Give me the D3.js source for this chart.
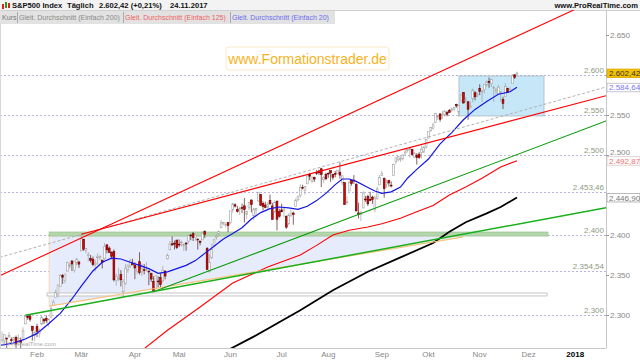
<!DOCTYPE html>
<meta charset="utf-8">
<script src="https://d3js.org/d3.v7.min.js"></script>
<style>
body { margin: 0; background: #fff; }
svg { font-family: "Liberation Sans", Arial, sans-serif; display: block; }
</style>
<body>
<script>

// daily candles per month: [day, open, high, low, close]
var jan = [
  [10,2268.6,2279.3,2265.5,2268.9],[11,2268.5,2275.5,2260.8,2275.3],[12,2271.1,2271.8,2254.3,2270.4],
  [13,2272.7,2278.7,2271.5,2274.6],[17,2269.1,2272.1,2262.8,2267.9],[18,2269.1,2272.0,2263.4,2271.9],
  [19,2271.9,2274.3,2258.4,2263.7],[20,2269.9,2276.0,2265.0,2271.3],[23,2267.8,2271.8,2257.0,2265.2],
  [24,2267.9,2284.6,2266.7,2280.1],[25,2288.9,2299.6,2288.9,2298.4],[26,2298.6,2300.9,2294.1,2296.7],
  [27,2299.0,2299.0,2291.6,2294.7],[30,2286.0,2286.0,2268.0,2280.9],[31,2274.0,2279.1,2267.2,2278.9]
];
var feb = [
  [1,2285.6,2289.1,2272.4,2279.6],[2,2276.7,2283.0,2271.7,2280.9],[3,2288.5,2298.3,2287.9,2297.4],
  [6,2294.3,2296.2,2288.6,2292.6],[7,2295.9,2299.4,2290.2,2293.1],[8,2289.6,2295.9,2285.4,2294.7],
  [9,2296.7,2311.1,2296.6,2307.9],[10,2312.3,2319.2,2311.1,2316.1],[13,2321.7,2331.6,2321.4,2328.3],
  [14,2326.1,2337.6,2322.2,2337.6],[15,2335.6,2351.3,2334.8,2349.3],[16,2349.6,2351.3,2338.9,2347.2],
  [17,2343.0,2351.2,2339.6,2351.2],[21,2354.9,2366.7,2354.4,2365.4],[22,2361.1,2365.1,2358.3,2362.8],
  [23,2367.5,2368.3,2355.1,2363.8],[24,2355.7,2367.3,2352.9,2367.3],[27,2365.2,2371.5,2361.9,2369.8],
  [28,2366.1,2367.8,2358.9,2363.6]
];
var mar = [
  [1,2380.1,2401.0,2380.1,2396.0],[2,2394.8,2394.8,2380.2,2381.9],[3,2380.9,2383.9,2376.9,2383.1],
  [6,2375.2,2378.8,2367.0,2375.3],[7,2370.7,2375.1,2365.5,2368.4],[8,2369.8,2373.1,2361.0,2363.0],
  [9,2363.5,2369.1,2354.5,2364.9],[10,2372.5,2376.9,2363.0,2372.6],[13,2371.6,2374.4,2368.5,2373.5],
  [14,2368.6,2368.6,2358.2,2365.5],[15,2370.3,2390.0,2368.9,2385.3],[16,2387.7,2388.1,2377.0,2381.4],
  [17,2383.7,2385.7,2377.6,2378.3],[20,2378.2,2379.6,2369.7,2373.5],[21,2379.3,2382.0,2341.9,2344.0],
  [22,2343.0,2351.8,2336.5,2348.5],[23,2345.1,2358.9,2342.1,2346.0],[24,2350.4,2356.2,2335.7,2344.0],
  [27,2329.1,2344.9,2322.3,2341.6],[28,2339.8,2363.8,2337.6,2358.6],[29,2356.5,2363.4,2352.9,2361.1],
  [30,2361.3,2370.4,2358.6,2368.1],[31,2364.8,2370.4,2362.6,2362.7]
];
var apr = [
  [3,2362.3,2365.9,2344.7,2358.8],[4,2354.8,2360.5,2350.7,2360.2],[5,2366.6,2378.4,2350.5,2353.0],
  [6,2353.8,2364.2,2348.9,2357.5],[7,2356.6,2363.8,2350.7,2355.5],[10,2357.2,2366.4,2354.4,2357.2],
  [11,2355.0,2355.2,2337.3,2353.8],[12,2352.2,2352.7,2341.2,2344.9],[13,2342.0,2348.3,2328.9,2329.0],
  [17,2332.6,2349.1,2332.5,2349.0],[18,2342.5,2348.4,2334.5,2342.2],[19,2346.8,2352.6,2335.1,2338.2],
  [20,2342.7,2361.4,2340.9,2355.8],[21,2354.7,2356.2,2344.5,2348.7],[24,2370.3,2377.0,2369.2,2374.2],
  [25,2381.5,2392.5,2381.2,2388.6],[26,2389.0,2398.2,2386.8,2387.5],[27,2389.7,2393.0,2381.8,2388.8],
  [28,2393.7,2393.7,2382.4,2384.2]
];
var may = [
  [1,2388.5,2394.5,2384.8,2388.3],[2,2391.1,2392.9,2385.8,2391.2],[3,2386.5,2389.8,2379.8,2388.1],
  [4,2389.8,2391.4,2380.4,2389.5],[5,2392.4,2399.3,2389.4,2399.3],[8,2399.9,2401.4,2393.6,2399.4],
  [9,2401.6,2403.9,2392.4,2396.9],[10,2396.8,2399.7,2392.8,2399.6],[11,2394.8,2395.7,2381.7,2394.4],
  [12,2392.4,2392.4,2387.2,2390.9],[15,2394.0,2404.1,2393.9,2402.3],[16,2404.6,2405.8,2396.1,2400.7],
  [17,2383.0,2384.9,2356.2,2357.0],[18,2354.7,2375.7,2352.7,2365.7],[19,2371.4,2389.1,2370.4,2381.7],
  [22,2387.2,2395.5,2386.9,2394.0],[23,2397.0,2400.9,2393.9,2398.4],[24,2401.4,2405.6,2398.0,2404.4],
  [25,2409.5,2418.7,2408.0,2415.1],[26,2414.5,2416.7,2412.2,2415.8],[30,2411.7,2415.3,2409.4,2412.9],
  [31,2415.6,2416.0,2403.6,2411.8]
];
var jun = [
  [1,2415.6,2430.1,2413.5,2430.1],[2,2431.3,2440.2,2427.7,2439.1],[5,2437.8,2439.6,2434.3,2436.1],
  [6,2431.9,2436.2,2428.1,2429.3],[7,2432.0,2435.3,2424.8,2433.1],[8,2434.3,2439.3,2427.4,2433.8],
  [9,2436.4,2446.2,2415.7,2431.8],[12,2425.9,2430.4,2420.0,2429.4],[13,2434.2,2441.5,2431.3,2440.4],
  [14,2443.8,2443.8,2428.3,2437.9],[15,2424.1,2434.0,2418.5,2432.5],[16,2431.2,2433.2,2422.9,2433.2],
  [19,2442.6,2453.8,2441.8,2453.5],[20,2450.7,2450.7,2436.6,2437.0],[21,2439.3,2442.2,2430.7,2435.6],
  [22,2437.4,2441.6,2433.3,2434.5],[23,2434.7,2441.4,2431.1,2438.3],[26,2443.3,2450.4,2437.6,2439.1],
  [27,2436.3,2440.2,2419.4,2419.4],[28,2428.7,2443.0,2428.0,2440.7],[29,2442.4,2442.7,2405.7,2419.7],
  [30,2429.2,2432.7,2421.6,2423.4]
];
var jul = [
  [3,2431.4,2439.0,2428.7,2429.0],[5,2430.8,2434.9,2422.1,2432.5],[6,2423.5,2424.3,2407.7,2409.8],
  [7,2413.5,2426.9,2413.5,2425.2],[10,2424.5,2432.0,2422.3,2427.4],[11,2427.4,2429.3,2412.8,2425.5],
  [12,2435.8,2445.8,2435.6,2443.3],[13,2444.0,2449.3,2441.7,2447.8],[14,2449.2,2463.5,2446.7,2459.3],
  [17,2459.5,2462.8,2457.2,2459.1],[18,2455.9,2460.9,2450.3,2460.6],[19,2463.9,2473.8,2463.9,2473.8],
  [20,2475.6,2477.6,2468.4,2473.5],[21,2467.4,2472.5,2465.1,2472.5],[24,2472.0,2473.1,2466.3,2469.9],
  [25,2477.9,2481.2,2474.9,2477.1],[26,2480.0,2481.7,2474.9,2477.8],[27,2482.8,2484.0,2459.9,2475.4],
  [28,2469.1,2473.5,2464.7,2472.1],[31,2475.9,2478.0,2468.5,2470.3]
];
var aug = [
  [1,2477.1,2478.5,2471.1,2476.4],[2,2480.4,2480.4,2466.5,2477.6],[3,2476.0,2476.0,2468.9,2472.2],
  [4,2476.9,2480.0,2472.1,2476.8],[7,2477.1,2481.0,2475.9,2480.9],[8,2478.4,2490.9,2470.3,2474.9],
  [9,2465.4,2474.4,2462.1,2474.0],[10,2465.4,2465.4,2437.8,2438.2],[11,2441.0,2448.1,2437.9,2441.3],
  [14,2455.0,2468.2,2455.0,2465.8],[15,2468.7,2468.9,2461.6,2464.6],[16,2468.6,2474.9,2463.9,2468.1],
  [17,2463.0,2465.0,2430.0,2430.0],[18,2427.6,2440.3,2420.7,2425.6],[21,2425.5,2430.6,2417.4,2428.4],
  [22,2433.8,2454.8,2433.7,2452.5],[23,2444.9,2448.9,2441.4,2444.0],[24,2447.9,2450.4,2436.2,2439.0],
  [25,2444.7,2454.0,2442.2,2443.1],[28,2447.4,2449.1,2439.0,2444.2],[29,2431.9,2449.2,2428.2,2446.3],
  [30,2446.1,2460.3,2443.8,2457.6],[31,2462.7,2475.0,2462.7,2471.7]
];
var sep = [
  [1,2474.4,2480.4,2473.9,2476.6],[5,2470.4,2472.0,2446.6,2457.9],[6,2463.8,2469.6,2459.2,2465.5],
  [7,2468.1,2468.6,2460.3,2465.1],[8,2462.3,2467.1,2459.4,2461.4],[11,2474.5,2489.0,2474.5,2488.1],
  [12,2491.9,2496.8,2488.4,2496.5],[13,2493.9,2498.4,2492.1,2498.4],[14,2494.6,2498.4,2491.4,2495.6],
  [15,2495.7,2500.2,2493.2,2500.2],[18,2502.5,2508.3,2499.9,2503.9],[19,2506.3,2507.8,2503.2,2506.7],
  [20,2506.8,2508.9,2496.7,2508.2],[21,2507.2,2507.2,2499.0,2500.6],[22,2497.3,2503.5,2496.5,2502.2],
  [25,2499.4,2502.5,2488.0,2496.7],[26,2501.0,2503.5,2495.1,2496.8],[27,2503.3,2511.8,2495.9,2507.0],
  [28,2503.4,2510.8,2502.9,2510.1],[29,2510.0,2519.4,2508.0,2519.4]
];
var oct = [
  [2,2521.2,2529.2,2520.4,2529.1],[3,2530.3,2535.1,2528.9,2534.6],[4,2533.5,2540.5,2531.8,2537.7],
  [5,2540.9,2552.5,2540.0,2552.1],[6,2547.4,2549.4,2543.8,2549.3],[9,2551.4,2551.8,2541.6,2544.7],
  [10,2550.0,2555.2,2544.9,2550.6],[11,2550.6,2555.2,2548.0,2555.2],[12,2552.9,2555.3,2548.3,2550.9],
  [13,2555.7,2557.7,2553.0,2553.2],[16,2555.6,2559.5,2554.0,2557.6],[17,2557.2,2559.7,2554.7,2559.4],
  [18,2562.9,2564.1,2559.2,2561.3],[19,2553.4,2562.4,2547.9,2562.1],[20,2567.6,2575.4,2567.6,2575.2],
  [23,2578.1,2578.3,2564.3,2565.0],[24,2568.7,2572.2,2565.6,2569.1],[25,2566.5,2567.4,2544.0,2557.2],
  [26,2560.1,2567.1,2559.5,2560.4],[27,2570.3,2583.0,2565.9,2581.1],[30,2577.8,2580.0,2568.3,2572.8],
  [31,2575.0,2578.3,2572.2,2575.3]
];
var nov = [
  [1,2583.2,2588.4,2574.9,2579.4],[2,2579.5,2581.1,2566.2,2579.9],[3,2581.9,2588.4,2576.8,2587.8],
  [6,2587.5,2593.4,2585.7,2591.1],[7,2592.1,2597.0,2584.1,2590.6],[8,2589.0,2595.5,2585.0,2594.4],
  [9,2584.0,2586.5,2566.3,2584.6],[10,2580.2,2583.8,2575.6,2582.3],[13,2576.5,2587.7,2576.5,2584.8],
  [14,2577.8,2579.7,2566.6,2578.9],[15,2569.4,2572.8,2557.4,2564.6],[16,2573.0,2590.1,2573.0,2585.6],
  [17,2582.9,2584.0,2577.6,2578.9],[20,2579.5,2584.6,2578.2,2582.1],[21,2589.2,2601.2,2589.2,2599.0],
  [22,2600.3,2600.9,2595.0,2597.1],[24,2600.4,2604.2,2600.4,2602.4]
];

// moving averages: [trading day index (0 = 1 Feb), value]
var ma20 = [[-16,2262],[-10,2265],[-5,2270],[0,2277],[5,2289],[10,2302],[15,2320],[19,2336],[24,2355],
  [28,2366],[32,2371],[36,2370],[40,2366],[44,2362],[48,2358],[52,2352],[56,2354],[60,2358],[64,2362],
  [68,2368],[72,2377],[76,2386],[80,2395],[84,2402],[88,2409],[92,2420],[96,2428],[100,2433],[104,2435],
  [108,2434],[112,2432],[116,2436],[120,2443],[124,2452],[128,2463],[131,2470],[134,2470],[137,2467],
  [141,2461],[145,2455],[148,2452],[152,2454],[156,2460],[159,2471],[163,2482],[168,2495],[173,2514],
  [178,2528],[183,2544],[188,2557],[193,2567],[198,2576],[203,2579],[206,2584.64]];
var ma125 = [[40,2244],[56,2281],[70,2310],[84,2340],[99,2360],[113,2375],[120,2387],[127,2400],
  [134,2406],[142,2410],[148,2414],[156,2421],[163,2429],[170,2437],[177,2450],[184,2460],[191,2471],
  [199,2485],[206,2492.87]];
var ma200 = [[74,2244],[93,2273],[113,2306],[127,2331],[142,2354],[156,2372],[170,2390],[177,2404],
  [184,2416],[193,2427],[199,2435],[206,2446.9]];

// drawn trend lines and zones: [index, value]
var upperRed = [[-16,2349],[244.2,2700]];
var lowerRed = [[19,2401],[244.2,2574]];
var greyDash = [[-16,2372],[244.2,2585]];
var greenSteep = [[50,2329],[244.2,2542.5]];
var greenFlat = [[-5,2299.6],[244.2,2434]];
var orangeLine = [[5.2,2311],[182.8,2397.5]];
var triangle = [[5.2,2399],[182.8,2399],[182.8,2397.5],[5.2,2311]];
var greenZone = [5.2, 219.3, 2398.7, 2403.7];
var greyZone = [4.3, 218.9, 2323.8, 2327.5];
var blueBox = [181.1, 217.6, 2548.8, 2598.8];

var levels = [2600, 2550, 2500, 2453.46, 2400, 2354.54, 2300];
var priceTicks = [2300, 2350, 2400, 2450, 2500, 2550, 2600, 2650];
var hiddenTicks = [2450, 2600]; // covered by the last-value boxes
var monthIdx = [0, 19, 42, 61, 83, 105, 125, 148, 168, 190, 211, 231];
var monthNames = ["Feb", "Mär", "Apr", "Mai", "Jun", "Jul", "Aug", "Sep", "Okt", "Nov", "Dez", "2018"];

var lastValues = [
  {v: 2602.42, fill: "#f2c200", stroke: "#d8a800", color: "#333"},
  {v: 2584.64, fill: "#fff", stroke: "#b8b8c8", color: "#7a7af0"},
  {v: 2492.87, fill: "#fff", stroke: "#d8c8c8", color: "#f07070"},
  {v: 2446.90, fill: "#fff", stroke: "#a8a8a8", color: "#777"}
];

var W = 640, H = 360;
var P = {left: 0, right: 606, top: 10, bottom: 348};

var de = d3.formatLocale({decimal: ",", thousands: ".", grouping: [3], currency: ["", " €"]});
var f0 = de.format(",.0f"), f2 = de.format(",.2f");

var candles = [];
[jan, feb, mar, apr, may, jun, jul, aug, sep, oct, nov].forEach(function(rows) {
  rows.forEach(function(r) { candles.push({day: r[0], o: r[1], h: r[2], l: r[3], c: r[4]}); });
});
candles.forEach(function(d, k) { d.i = k - jan.length; });

var x = d3.scaleLinear().domain([-15.88, 244.2]).range([P.left, P.right]);
var y = d3.scaleLinear().domain([2300, 2600]).range([315, 75]);

var svg = d3.select("body").append("svg").attr("width", W).attr("height", H);

svg.append("defs").append("clipPath").attr("id", "clip")
  .append("rect").attr("x", P.left).attr("y", P.top)
  .attr("width", P.right - P.left).attr("height", P.bottom - P.top);

// top bar
svg.append("rect").attr("x", 0).attr("y", 0).attr("width", W).attr("height", P.top).attr("fill", "#f3f3f3");
svg.append("line").attr("x1", 0).attr("x2", W).attr("y1", P.top + 0.5).attr("y2", P.top + 0.5).attr("stroke", "#d0d0d0");

var plot = svg.append("g").attr("clip-path", "url(#clip)");

// horizontal levels
plot.selectAll(".lvl").data(levels).join("line")
  .attr("x1", P.left).attr("x2", P.right)
  .attr("y1", function(d) { return Math.round(y(d)) + 0.5; })
  .attr("y2", function(d) { return Math.round(y(d)) + 0.5; })
  .attr("stroke", "#a89fd8").attr("stroke-width", 0.8).attr("stroke-dasharray", "2,2");

// zones
function zone(z, fill, stroke) {
  plot.append("rect")
    .attr("x", x(z[0])).attr("width", x(z[1]) - x(z[0]))
    .attr("y", y(z[3])).attr("height", y(z[2]) - y(z[3]))
    .attr("fill", fill).attr("stroke", stroke).attr("stroke-width", 0.8);
}
var line = d3.line().x(function(d) { return x(d[0]); }).y(function(d) { return y(d[1]); });

plot.append("path").attr("d", line(triangle) + "Z")
  .attr("fill", "#e6ecfb").attr("stroke", "#f6d3a4").attr("stroke-width", 0.8);
zone(greenZone, "#b3d6ab", "#9cc495");
zone(greyZone, "#fff", "#b8b8b8");
zone(blueBox, "#c6e7f8", "#a9b9c2");

// candles
var cg = plot.append("g");
cg.selectAll("line").data(candles).join("line")
  .attr("x1", function(d) { return x(d.i); }).attr("x2", function(d) { return x(d.i); })
  .attr("y1", function(d) { return y(d.h); }).attr("y2", function(d) { return y(d.l); })
  .attr("stroke", function(d) { return d.c >= d.o ? "#a0a0a0" : "#502020"; })
  .attr("stroke-width", 0.7);
cg.selectAll("rect").data(candles).join("rect")
  .attr("x", function(d) { return x(d.i) - 0.9; }).attr("width", 1.8)
  .attr("y", function(d) { return y(Math.max(d.o, d.c)); })
  .attr("height", function(d) { return Math.max(0.8, Math.abs(y(d.o) - y(d.c))); })
  .attr("fill", function(d) { return d.c >= d.o ? "#fff" : "#e00000"; })
  .attr("stroke", function(d) { return d.c >= d.o ? "#a0a0a0" : "#600000"; })
  .attr("stroke-width", 0.6);

// moving averages
function drawLine(pts, color, w, dash) {
  var p = plot.append("path").attr("d", line(pts)).attr("fill", "none")
    .attr("stroke", color).attr("stroke-width", w);
  if (dash) p.attr("stroke-dasharray", dash);
}
drawLine(ma200, "#000", 1.8);
drawLine(ma125, "#ff0000", 1.1);
drawLine(ma20, "#1414e6", 1.2);

// trend lines
drawLine(greyDash, "#a8a8a8", 0.9, "3,2");
drawLine(upperRed, "#ff0000", 1.1);
drawLine(lowerRed, "#ff0000", 1.1);
drawLine(orangeLine, "#f7c27c", 1);
drawLine(greenSteep, "#0a9a0a", 1.1);
drawLine(greenFlat, "#19b019", 1.5);

// level labels
plot.selectAll(".lvlt").data(levels).join("text")
  .attr("x", P.right - 2).attr("y", function(d) { return y(d) - 2; })
  .attr("text-anchor", "end").attr("font-size", 8).attr("fill", "#8c9a84")
  .text(function(d) { return d % 1 ? f2(d) : f0(d); });

// frame
svg.append("line").attr("x1", P.right + 0.5).attr("x2", P.right + 0.5).attr("y1", P.top).attr("y2", P.bottom)
  .attr("stroke", "#c8c8c8");
svg.append("line").attr("x1", 0).attr("x2", P.right).attr("y1", P.bottom + 0.5).attr("y2", P.bottom + 0.5)
  .attr("stroke", "#c8c8c8");
svg.append("line").attr("x1", 0.5).attr("x2", 0.5).attr("y1", P.top).attr("y2", P.bottom)
  .attr("stroke", "#d8d8d8");

// right axis
var ya = svg.append("g").attr("transform", "translate(" + P.right + ",0)")
  .call(d3.axisRight(y).tickValues(priceTicks).tickSize(3).tickPadding(1).tickFormat(f0));
ya.select(".domain").remove();
ya.selectAll("line").attr("stroke", "#999");
ya.selectAll("text").attr("fill", "#888").attr("font-size", 8).attr("font-family", "Liberation Sans, Arial, sans-serif");
ya.selectAll(".tick").filter(function(d) { return hiddenTicks.indexOf(d) >= 0; }).select("text").remove();
ya.selectAll(".tick").filter(function(d) { return d === 2500; }).select("text").attr("dy", "-0.05em");

var lv = svg.selectAll(".lv").data(lastValues).join("g")
  .attr("transform", function(d) { return "translate(607," + y(d.v) + ")"; });
lv.append("rect").attr("x", 0).attr("y", -4).attr("width", 33).attr("height", 8.5)
  .attr("fill", function(d) { return d.fill; }).attr("stroke", function(d) { return d.stroke; }).attr("stroke-width", 0.8);
lv.append("text").attr("x", 2).attr("y", 3.2).attr("font-size", 8)
  .attr("fill", function(d) { return d.color; }).text(function(d) { return f2(d.v); });

// bottom axis labels
svg.selectAll(".mt").data(monthIdx).join("text")
  .attr("x", function(d) { return x(d); }).attr("y", 357)
  .attr("text-anchor", "middle").attr("font-size", 8)
  .attr("font-weight", function(d, k) { return monthNames[k] === "2018" ? "bold" : "normal"; })
  .attr("fill", function(d, k) { return monthNames[k] === "2018" ? "#000" : "#888"; })
  .text(function(d, k) { return monthNames[k]; });

// header
var icon = svg.append("g");
icon.append("rect").attr("x", 2).attr("y", 4).attr("width", 2).attr("height", 5).attr("fill", "#e02020");
icon.append("rect").attr("x", 5).attr("y", 2).attr("width", 2).attr("height", 6).attr("fill", "#20a020");
icon.append("rect").attr("x", 8).attr("y", 3).attr("width", 2).attr("height", 5).attr("fill", "#e02020");
var hdr = [["S&P500 Index", 12], ["Täglich", 67], ["2.602,42 (+0,21%)", 99], ["24.11.2017", 170]];
svg.selectAll(".hd").data(hdr).join("text")
  .attr("x", function(d) { return d[1]; }).attr("y", 8.3)
  .attr("font-size", 7.6).attr("font-weight", "bold").attr("fill", "#111")
  .text(function(d) { return d[0]; });
svg.append("text").attr("x", 638).attr("y", 8.3).attr("text-anchor", "end")
  .attr("font-size", 7.6).attr("font-weight", "bold").attr("fill", "#111").text("www.ProRealTime.com");

// legend row
svg.append("rect").attr("x", 0).attr("y", 11).attr("width", 335).attr("height", 13).attr("fill", "#e2e2e2");
var leg = [["Kurs", 2, "#777"], ["Gleit. Durchschnitt (Einfach 200)", 19, "#888"],
           ["Gleit. Durchschnitt (Einfach 125)", 125, "#f06060"], ["Gleit. Durchschnitt (Einfach 20)", 232, "#6c6cf0"]];
svg.selectAll(".lg").data(leg).join("text")
  .attr("x", function(d) { return d[1]; }).attr("y", 20.2)
  .attr("font-size", 7).attr("fill", function(d) { return d[2]; })
  .text(function(d) { return d[0]; });
svg.selectAll(".ls").data([17, 123, 230]).join("line")
  .attr("x1", function(d) { return d + 0.5; }).attr("x2", function(d) { return d + 0.5; })
  .attr("y1", 12).attr("y2", 23).attr("stroke", "#aaa");

// annotation
svg.append("rect").attr("x", 226).attr("y", 47).attr("width", 163).attr("height", 23).attr("rx", 3)
  .attr("fill", "none").attr("stroke", "#fde2b8").attr("stroke-width", 0.8);
svg.append("text").attr("x", 307.5).attr("y", 63.5).attr("text-anchor", "middle")
  .attr("font-size", 14).attr("fill", "#f5b41e").text("www.Formationstrader.de");

// watermark
svg.append("text").attr("x", 2).attr("y", 346).attr("font-size", 6).attr("fill", "#aaa").text("© ProRealTime.com");

</script>
</body>
